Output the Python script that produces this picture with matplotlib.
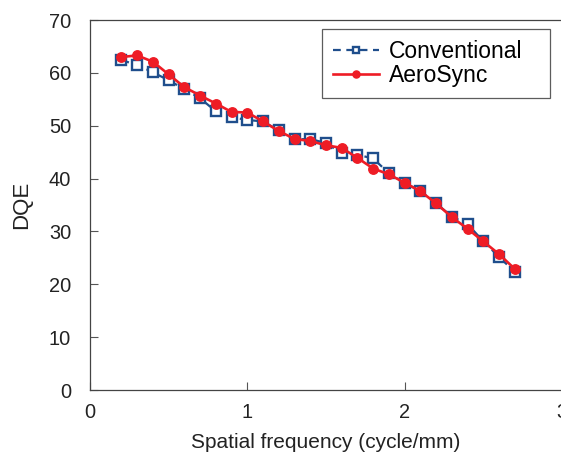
import matplotlib
matplotlib.use("Agg")
import matplotlib.pyplot as plt

plt.rcParams['font.family'] = ['Liberation Sans', 'DejaVu Sans']

freq = [0.2, 0.3, 0.4, 0.5, 0.6, 0.7, 0.8, 0.9, 1.0, 1.1, 1.2, 1.3, 1.4,
        1.5, 1.6, 1.7, 1.8, 1.9, 2.0, 2.1, 2.2, 2.3, 2.4, 2.5, 2.6, 2.7]
conventional = [62.4, 61.5, 60.1, 58.6, 56.9, 55.2, 52.7, 51.6, 51.1, 50.8,
                49.1, 47.4, 47.5, 46.7, 44.8, 44.5, 43.8, 41.0, 39.2, 37.6,
                35.3, 32.8, 31.4, 28.1, 25.2, 22.3]
aerosync = [63.0, 63.3, 62.1, 59.7, 57.3, 55.7, 54.2, 52.6, 52.5, 50.8,
            49.0, 47.5, 47.1, 46.3, 45.8, 43.9, 41.9, 40.8, 39.2, 37.6,
            35.3, 32.7, 30.5, 28.1, 25.7, 22.9]

fig = plt.figure(figsize=(5.61, 4.53), dpi=100)
ax = fig.add_axes([90/561, 63/453, 472/561, 370/453])

blue = '#1f4e8c'
red = '#ee1c25'
ax.plot(freq, conventional, color=blue, linestyle=(0, (3.5, 2.5)), linewidth=1.6,
        marker='s', markersize=6.5, markerfacecolor='white', markeredgecolor=blue,
        markeredgewidth=1.7, label='Conventional', zorder=2)
ax.plot(freq, aerosync, color=red, linewidth=1.9, marker='o', markersize=6.8,
        markerfacecolor=red, markeredgecolor=red, label='AeroSync', zorder=3)

ax.set_xlim(0, 3)
ax.set_ylim(0, 70)
ax.set_xticks([0, 1, 2, 3])
ax.set_yticks(range(0, 71, 10))
ax.tick_params(direction='in', length=6, width=0.8, color='#555555',
               labelsize=14.4, labelcolor='#222222')
ax.tick_params(axis='y', pad=13.5)
ax.tick_params(axis='x', pad=9.5)
for s in ax.spines.values():
    s.set_color('#444444')
    s.set_linewidth(0.9)
ax.set_xlabel('Spatial frequency (cycle/mm)', fontsize=15, color='#222222', labelpad=7.5)
ax.set_ylabel('DQE', fontsize=16, color='#222222', labelpad=12)

leg = ax.legend(loc='upper left', bbox_to_anchor=(232/472, 0, 228/472, 1 - 9/370),
                mode='expand',
                fontsize=16.5, frameon=True, fancybox=False, edgecolor='#333333',
                handlelength=2.0, borderpad=0.48, labelspacing=0.05,
                handletextpad=0.45, borderaxespad=0, markerscale=0.75)
leg.get_frame().set_linewidth(0.9)

fig.savefig('out.png', dpi=100)
